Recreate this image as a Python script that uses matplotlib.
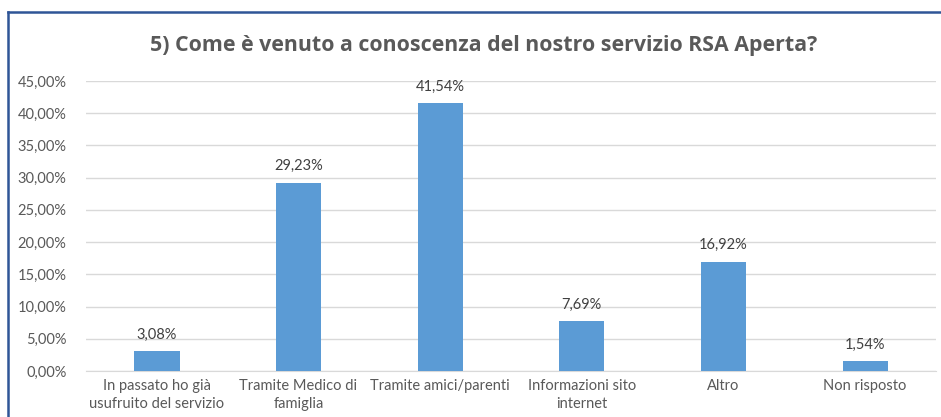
import matplotlib
matplotlib.use("Agg")
import matplotlib.pyplot as plt
from matplotlib.lines import Line2D
from matplotlib.ticker import FuncFormatter

categories = ["In passato ho già\nusufruito del servizio", "Tramite Medico di\nfamiglia",
              "Tramite amici/parenti", "Informazioni sito\ninternet", "Altro", "Non risposto"]
values = [3.08, 29.23, 41.54, 7.69, 16.92, 1.54]
title = "5) Come è venuto a conoscenza del nostro servizio RSA Aperta?"

plt.rcParams['font.family'] = ['Lato', 'DejaVu Sans']
txt = '#595959'

fig = plt.figure(figsize=(9.41, 4.17), dpi=100)
ax = fig.add_axes([86/941, 1-371/417, 850/941, 290/417])

x = list(range(len(values)))
bars = ax.bar(x, values, width=0.32, color='#5B9BD5', zorder=3)
for xi, v in zip(x, values):
    ax.text(xi, v + 1.5, f"{v:.2f}%".replace('.', ','), ha='center', va='bottom',
            fontsize=10.5, color='#404040')

ax.set_xlim(-0.5, len(values) - 0.5)
ax.set_ylim(0, 45)
ax.set_yticks([i * 5 for i in range(10)])
ax.yaxis.set_major_formatter(FuncFormatter(lambda v, p: f"{v:.2f}%".replace('.', ',')))
ax.set_xticks(x)
ax.set_xticklabels(categories, fontsize=10.5, color=txt, linespacing=1.3)
ax.tick_params(axis='y', labelsize=10.5, colors=txt, length=0, pad=14)
ax.tick_params(axis='x', length=0, pad=6)
ax.grid(axis='y', color='#D9D9D9', linewidth=1, zorder=0)
for s in ['top', 'right', 'left']:
    ax.spines[s].set_visible(False)
ax.spines['bottom'].set_color('#D9D9D9')

fig.text(484/941, 1-45/417, title, ha='center', va='center', fontsize=15.4,
         fontweight='bold', color=txt, family=['Open Sans', 'DejaVu Sans'])

# frame
fig.add_artist(Line2D([8/941, 1.0], [1-12/417, 1-12/417], color='#2F5597', linewidth=1.8,
                      transform=fig.transFigure))
fig.add_artist(Line2D([8/941, 8/941], [0, 1-12/417], color='#2F5597', linewidth=1.8,
                      transform=fig.transFigure))

fig.savefig("out.png", dpi=100)
